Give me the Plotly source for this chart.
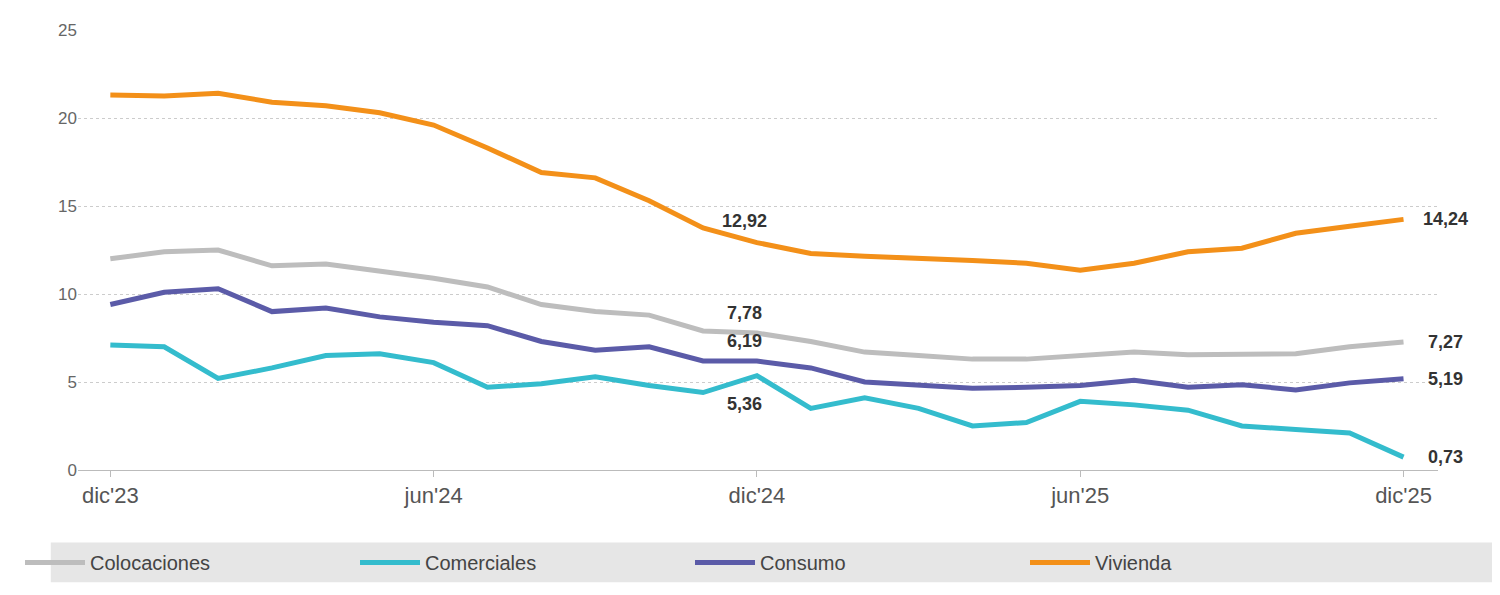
import plotly.graph_objects as go

x_idx = list(range(25))
tick_pos = [0, 6, 12, 18, 24]
tick_labels = ["dic'23", "jun'24", "dic'24", "jun'25", "dic'25"]

colocaciones = [12.0, 12.4, 12.5, 11.6, 11.7, 11.3, 10.9, 10.4, 9.4, 9.0, 8.8, 7.9, 7.78,
                7.3, 6.7, 6.5, 6.3, 6.3, 6.5, 6.7, 6.55, 6.6, 6.6, 7.0, 7.27]
comerciales = [7.1, 7.0, 5.2, 5.8, 6.5, 6.6, 6.1, 4.7, 4.9, 5.3, 4.8, 4.4, 5.36,
               3.5, 4.1, 3.5, 2.5, 2.7, 3.9, 3.7, 3.4, 2.5, 2.3, 2.1, 0.73]
consumo = [9.4, 10.1, 10.3, 9.0, 9.2, 8.7, 8.4, 8.2, 7.3, 6.8, 7.0, 6.2, 6.19,
           5.8, 5.0, 4.8, 4.65, 4.7, 4.8, 5.1, 4.7, 4.85, 4.55, 4.95, 5.19]
vivienda = [21.3, 21.25, 21.4, 20.9, 20.7, 20.3, 19.6, 18.3, 16.9, 16.6, 15.3, 13.75, 12.92,
            12.3, 12.15, 12.05, 11.9, 11.75, 11.35, 11.75, 12.4, 12.6, 13.45, 13.85, 14.24]

series = [("Colocaciones", colocaciones, "#bdbdbd"),
          ("Comerciales", comerciales, "#34bccd"),
          ("Consumo", consumo, "#5b5ba8"),
          ("Vivienda", vivienda, "#f39019")]

fig = go.Figure()
for name, vals, col in series:
    fig.add_trace(go.Scatter(x=x_idx, y=vals, name=name, mode="lines",
                             line=dict(color=col, width=5)))

ann_font = dict(family="Liberation Sans", size=18, color="#333333")
labels = [
    (12, vivienda[12], "<b>12,92</b>", 0, -22),
    (12, colocaciones[12], "<b>7,78</b>", 0, -20),
    (12, consumo[12], "<b>6,19</b>", 0, -20),
    (12, comerciales[12], "<b>5,36</b>", 0, 28),
    (24, vivienda[24], "<b>14,24</b>", 42, 0),
    (24, colocaciones[24], "<b>7,27</b>", 42, 0),
    (24, consumo[24], "<b>5,19</b>", 42, 0),
    (24, comerciales[24], "<b>0,73</b>", 42, 0),
]
for xv, yv, t, ax, ay in labels:
    fig.add_annotation(x=xv, y=yv, text=t, showarrow=False, xshift=ax - (12 if xv == 12 else 0),
                       yshift=-ay, font=ann_font)

fig.add_shape(type="rect", xref="paper", yref="paper", x0=-0.02, x1=1.04, y0=-0.255, y1=-0.165,
              fillcolor="#e6e6e6", line=dict(width=0), layer="below")

fig.update_layout(
    width=1500, height=595, plot_bgcolor="white", paper_bgcolor="white",
    margin=dict(l=55, r=70, t=22, b=133),
    font=dict(family="Liberation Sans", size=20, color="#555555"),
    legend=dict(orientation="h", x=0.45, xanchor="center", y=-0.21, yanchor="middle",
                font=dict(size=20, color="#444444"), entrywidth=260, itemwidth=60,
                bgcolor="rgba(0,0,0,0)"),
    showlegend=True,
)
fig.update_xaxes(range=[-0.6, 24.64], tickvals=tick_pos, ticktext=tick_labels,
                 showgrid=False, showline=True, linecolor="#bbbbbb", ticks="outside",
                 tickcolor="#bbbbbb", ticklen=6, zeroline=False, tickfont=dict(size=22))
fig.update_yaxes(range=[0, 25], tickvals=[0, 5, 10, 15, 20, 25], showgrid=True,
                 gridcolor="#cccccc", griddash="dot", zeroline=False, tickfont=dict(size=17, color="#666666"))

fig.write_html("out.html")
